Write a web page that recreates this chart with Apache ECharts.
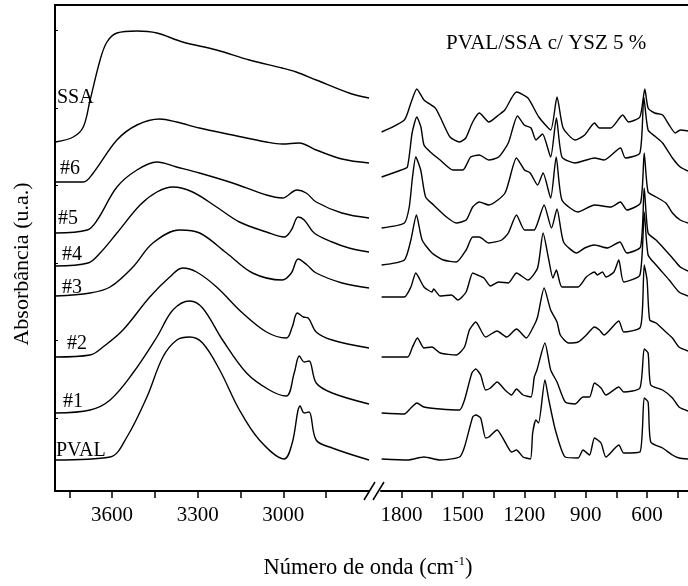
<!DOCTYPE html>
<html>
<head>
<meta charset="utf-8">
<script src="https://cdn.jsdelivr.net/npm/echarts@6/dist/echarts.min.js"></script>
<style>
  html, body { margin: 0; padding: 0; background: #fff; }
  #chart { width: 688px; height: 586px; }
</style>
</head>
<body>
<div id="chart"></div>
<script>
// spectra: [wavenumber, absorbance (offset, a.u.)]
// high range 3800-2700, low range 1900-400
const ssaHigh = [[3798,349],[3736,354],[3701,364],[3677,391],[3642,431],[3618,449],[3583,458],[3513,460],[3443,458],[3353,449],[3234,441],[3119,431],[3004,423],[2955,419],[2885,411],[2770,398],[2700,393]];
const s6High = [[3798,309],[3701,309],[3666,318],[3583,351],[3513,366],[3433,372],[3374,369],[3294,363],[3178,356],[3059,349],[3004,347],[2945,348],[2885,341],[2795,332],[2700,328]];
const s5High = [[3798,258],[3687,261],[3652,271],[3583,304],[3513,321],[3443,329],[3374,324],[3294,318],[3178,308],[3059,296],[3004,293],[2952,301],[2920,298],[2885,289],[2795,278],[2700,273]];
const s4High = [[3798,225],[3684,228],[3642,238],[3583,258],[3502,286],[3443,299],[3387,304],[3318,299],[3234,284],[3154,269],[3059,259],[2997,254],[2972,261],[2948,274],[2927,271],[2892,258],[2829,249],[2770,243],[2700,239]];
const s3High = [[3798,195],[3677,198],[3607,204],[3527,224],[3457,248],[3363,261],[3293,258],[3199,238],[3108,218],[3004,211],[2972,218],[2948,232],[2917,226],[2885,218],[2794,208],[2700,203]];
const s2High = [[3798,134],[3677,136],[3632,144],[3562,161],[3468,194],[3398,214],[3353,223],[3304,219],[3234,204],[3143,178],[3059,159],[2990,153],[2969,164],[2951,178],[2930,174],[2913,173],[2885,159],[2829,151],[2700,143]];
const s1High = [[3798,78],[3677,81],[3607,91],[3527,118],[3443,154],[3387,181],[3328,190],[3283,183],[3213,151],[3129,118],[3049,101],[2990,95],[2962,118],[2944,135],[2927,129],[2910,130],[2885,108],[2829,98],[2700,87]];
const pvalHigh = [[3798,31],[3607,34],[3548,54],[3478,94],[3422,134],[3373,151],[3328,154],[3283,148],[3223,121],[3154,81],[3084,51],[2997,32],[2969,48],[2941,85],[2927,78],[2910,79],[2885,51],[2829,43],[2700,31]];

const ssaLow = [[1897,359],[1786,371],[1754,388],[1725,402],[1690,391],[1635,383],[1611,374],[1563,354],[1516,349],[1486,353],[1452,369],[1419,378],[1373,369],[1325,376],[1295,381],[1238,399],[1182,393],[1129,374],[1071,361],[1040,394],[1010,363],[952,351],[905,356],[857,368],[833,363],[778,363],[719,376],[690,369],[635,374],[611,402],[595,383],[563,378],[524,376],[492,366],[462,358],[438,361],[400,360]];
const s6Low = [[1897,314],[1801,321],[1771,324],[1748,358],[1725,374],[1705,364],[1690,346],[1659,339],[1611,331],[1548,321],[1500,321],[1462,334],[1420,336],[1373,331],[1325,334],[1278,348],[1233,375],[1200,366],[1167,363],[1143,351],[1111,357],[1071,334],[1043,373],[1016,334],[952,328],[857,333],[810,331],[730,343],[706,333],[635,338],[616,394],[595,361],[557,354],[524,348],[476,333],[438,324],[400,320]];
const s5Low = [[1897,263],[1786,268],[1762,284],[1746,314],[1730,334],[1706,321],[1682,294],[1643,286],[1580,274],[1532,268],[1484,271],[1452,284],[1420,289],[1373,286],[1294,298],[1238,333],[1199,321],[1171,318],[1135,306],[1108,318],[1071,293],[1044,334],[1016,291],[938,279],[857,286],[778,284],[730,289],[699,281],[632,288],[614,338],[595,299],[556,294],[508,288],[476,278],[438,271],[400,268]];
const s4Low = [[1897,226],[1786,231],[1754,251],[1727,276],[1699,251],[1651,238],[1595,231],[1532,229],[1484,241],[1452,254],[1420,254],[1373,248],[1310,251],[1278,258],[1238,276],[1199,261],[1152,261],[1135,268],[1103,286],[1067,263],[1040,282],[1008,249],[944,238],[905,243],[857,246],[794,243],[733,249],[699,238],[632,244],[614,303],[595,258],[556,251],[524,244],[476,233],[438,224],[400,220]];
const s3Low = [[1897,194],[1786,194],[1754,204],[1730,218],[1690,204],[1651,199],[1643,202],[1611,195],[1556,196],[1524,191],[1484,199],[1452,218],[1429,216],[1397,213],[1365,205],[1325,209],[1278,208],[1238,218],[1182,211],[1135,223],[1108,258],[1080,231],[1060,213],[1043,221],[1016,204],[937,204],[897,214],[857,219],[843,216],[818,219],[801,214],[762,219],[738,231],[714,209],[635,216],[614,279],[595,236],[556,226],[492,211],[444,199],[400,195]];
const s2Low = [[1897,134],[1770,134],[1746,144],[1722,153],[1690,143],[1651,144],[1611,138],[1532,136],[1492,144],[1468,161],[1437,169],[1389,154],[1333,160],[1286,154],[1238,162],[1190,153],[1151,166],[1135,174],[1103,203],[1071,181],[1040,169],[1024,156],[984,148],[937,149],[897,156],[857,164],[833,161],[810,156],[738,170],[714,159],[635,163],[622,184],[614,226],[600,211],[587,171],[556,168],[508,159],[476,153],[444,144],[400,140]];
const s1Low = [[1897,78],[1786,77],[1754,83],[1725,88],[1690,84],[1611,82],[1516,81],[1492,91],[1456,118],[1437,122],[1413,116],[1389,101],[1365,103],[1333,109],[1294,101],[1262,96],[1238,102],[1206,96],[1167,94],[1151,114],[1138,121],[1099,148],[1071,121],[1040,109],[1000,89],[952,87],[913,94],[881,94],[857,108],[825,103],[801,96],[738,104],[714,99],[635,103],[614,142],[595,138],[582,106],[524,101],[476,93],[444,84],[400,80]];
const pvalLow = [[1897,32],[1770,31],[1690,34],[1611,31],[1516,34],[1492,44],[1452,74],[1437,76],[1413,73],[1389,53],[1373,54],[1333,61],[1294,49],[1262,39],[1238,41],[1206,34],[1170,32],[1159,58],[1143,71],[1130,68],[1099,111],[1080,91],[1048,61],[1000,34],[937,33],[913,41],[881,36],[857,53],[825,48],[801,34],[738,46],[714,38],[635,39],[614,93],[595,89],[582,49],[524,43],[476,36],[444,33],[400,32]];

const highTicks = [3750, 3600, 3450, 3300, 3150, 3000, 2850];
const highLabels = [3600, 3300, 3000];
const lowTicks = [1800, 1650, 1500, 1350, 1200, 1050, 900, 750, 600, 450];
const lowLabels = [1800, 1500, 1200, 900, 600];
const yTicks = [73, 151, 228, 306, 383, 461];

const curveNames = ['SSA', '#6', '#5', '#4', '#3', '#2', '#1', 'PVAL'];
const highSet = [ssaHigh, s6High, s5High, s4High, s3High, s2High, s1High, pvalHigh];
const lowSet = [ssaLow, s6Low, s5Low, s4Low, s3Low, s2Low, s1Low, pvalLow];

const FONT = '"Liberation Serif", "Times New Roman", serif';
const chart = echarts.init(document.getElementById('chart'), null, { renderer: 'canvas' });

function xAxisFor(grid, min, max, ticks, labels) {
  return {
    type: 'value', gridIndex: grid, min: min, max: max, inverse: true,
    axisLine: { show: true, lineStyle: { color: '#000', width: 2 } },
    axisTick: { show: true, inside: false, length: 7, customValues: ticks, lineStyle: { color: '#000', width: 1.5 } },
    axisLabel: {
      show: true, customValues: labels, margin: 14, color: '#000', fontSize: 21, fontFamily: FONT,
      formatter: function (v) { return String(v); }
    },
    splitLine: { show: false }
  };
}

let series = [];
curveNames.forEach(function (name, i) {
  series.push({
    name: name, type: 'line', xAxisIndex: 0, yAxisIndex: 0, data: highSet[i],
    showSymbol: false, smooth: 0.35, lineStyle: { color: '#000', width: 1.4 }
  });
  series.push({
    name: name, type: 'line', xAxisIndex: 1, yAxisIndex: 1, data: lowSet[i],
    showSymbol: false, smooth: 0.2, lineStyle: { color: '#000', width: 1.4 }
  });
});

// curve labels at the left edge
const labelPos = [[57, 98], [60, 169], [58, 219], [62, 255], [62, 288], [67, 344], [63, 402], [56, 451]];
let graphics = curveNames.map(function (name, i) {
  return {
    type: 'text', x: labelPos[i][0], y: labelPos[i][1],
    style: { text: name, font: '20px ' + FONT, fill: '#000', textAlign: 'left', textVerticalAlign: 'middle' }
  };
});
graphics.push(
  { type: 'line', shape: { x1: 54, y1: 5, x2: 688, y2: 5 }, style: { stroke: '#000', lineWidth: 2 } },
  { type: 'line', shape: { x1: 364, y1: 500, x2: 375, y2: 482 }, style: { stroke: '#000', lineWidth: 1.5 } },
  { type: 'line', shape: { x1: 373, y1: 500, x2: 384, y2: 482 }, style: { stroke: '#000', lineWidth: 1.5 } },
  {
    type: 'text', x: 446, y: 43,
    style: { text: 'PVAL/SSA c/ YSZ 5 %', font: '21px ' + FONT, fill: '#000', textAlign: 'left', textVerticalAlign: 'middle' }
  },
  {
    type: 'text', x: 22, y: 264, rotation: Math.PI / 2,
    style: { text: 'Absorbância (u.a.)', font: '22px ' + FONT, fill: '#000', textAlign: 'center', textVerticalAlign: 'middle' }
  },
  {
    type: 'text', x: 368, y: 568,
    style: {
      text: 'Número de onda (cm{sup|-1})', font: '22.5px ' + FONT, fill: '#000',
      textAlign: 'center', textVerticalAlign: 'middle',
      rich: { sup: { fontSize: 13, fontFamily: FONT, verticalAlign: 'top', lineHeight: 26 } }
    }
  }
);

let option = {
  animation: false,
  backgroundColor: '#fff',
  grid: [
    { left: 55, top: 5, width: 314, height: 486 },
    { left: 381, top: 5, width: 314, height: 486 }
  ],
  xAxis: [
    xAxisFor(0, 2700, 3800, highTicks, highLabels),
    xAxisFor(1, 400, 1900, lowTicks, lowLabels)
  ],
  yAxis: [
    {
      type: 'value', gridIndex: 0, min: 0, max: 486,
      axisLine: { show: true, lineStyle: { color: '#000', width: 2 } },
      axisTick: { show: true, inside: true, length: 3, customValues: yTicks, lineStyle: { color: '#000' } },
      axisLabel: { show: false },
      splitLine: { show: false }
    },
    { type: 'value', gridIndex: 1, min: 0, max: 486, show: false, splitLine: { show: false } }
  ],
  graphic: graphics,
  series: series
};
chart.setOption(option);
</script>
</body>
</html>
